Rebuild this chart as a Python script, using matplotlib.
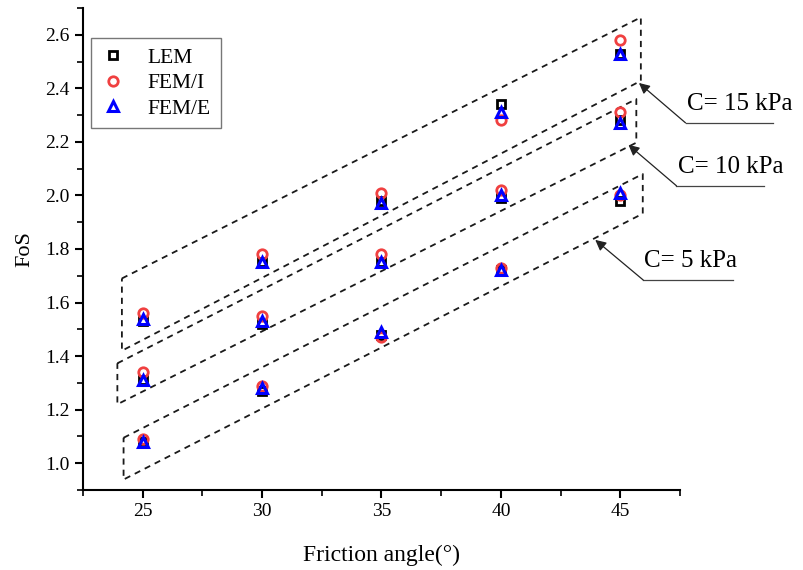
import numpy as np
import matplotlib.pyplot as plt
from matplotlib.ticker import MultipleLocator

plt.rcParams['font.family'] = ['Liberation Serif', 'DejaVu Serif']

# friction angle (deg)
phi = [25, 30, 35, 40, 45]

# factor of safety for each cohesion value
lem_c5 = [1.08, 1.27, 1.48, 1.72, 1.98]
lem_c10 = [1.31, 1.52, 1.75, 1.99, 2.28]
lem_c15 = [1.53, 1.75, 1.98, 2.34, 2.53]

femi_c5 = [1.09, 1.29, 1.47, 1.73, 2.00]
femi_c10 = [1.34, 1.55, 1.78, 2.02, 2.31]
femi_c15 = [1.56, 1.78, 2.01, 2.28, 2.58]

feme_c5 = [1.08, 1.28, 1.49, 1.72, 2.01]
feme_c10 = [1.31, 1.53, 1.75, 2.00, 2.27]
feme_c15 = [1.54, 1.75, 1.97, 2.31, 2.53]

cohesion_labels = ['C= 15 kPa', 'C= 10 kPa', 'C= 5 kPa']

# dashed outlines around each cohesion group (TL, TR, BR, BL)
group_boxes = [
    [(24.13, 1.69), (45.86, 2.665), (45.86, 2.428), (24.13, 1.42)],
    [(23.94, 1.373), (45.67, 2.36), (45.67, 2.197), (23.94, 1.22)],
    [(24.20, 1.095), (45.94, 2.08), (45.94, 1.932), (24.20, 0.939)],
]
# arrow tip, underline start, underline end
callouts = [
    ((45.78, 2.42), (47.73, 2.271), 51.4),
    ((45.34, 2.189), (47.35, 2.036), 51.0),
    ((43.95, 1.834), (45.96, 1.684), 49.7),
]

red = '#f04040'
blue = '#0000ff'

fig = plt.figure(figsize=(8.04, 5.70), dpi=100)
ax = fig.add_axes([0.1032, 0.1404, 0.7426, 0.8456])

x = np.repeat([phi], 3, axis=0).ravel()
lem = lem_c5 + lem_c10 + lem_c15
femi = femi_c5 + femi_c10 + femi_c15
feme = feme_c5 + feme_c10 + feme_c15

ax.plot(x, lem, ls='none', marker='s', ms=5.5, mew=2.0, mfc='none',
        mec='black', label='LEM', zorder=3)
ax.plot(x, femi, ls='none', marker='o', ms=6.8, mew=2.0, mfc='none',
        mec=red, label='FEM/I', zorder=4)
ax.plot(x, feme, ls='none', marker='^', ms=7.4, mew=2.2, mfc='none',
        mec=blue, label='FEM/E', zorder=5)

for box in group_boxes:
    pts = box + [box[0]]
    ax.plot([p[0] for p in pts], [p[1] for p in pts], color='#1a1a1a',
            lw=1.3, dashes=(3.4, 2.8), zorder=2)

for (tip, start, end), label in zip(callouts, cohesion_labels):
    ax.annotate('', xy=tip, xytext=start, annotation_clip=False,
                arrowprops=dict(arrowstyle='-|>', color='#222222', lw=0.9,
                                mutation_scale=16, shrinkA=0, shrinkB=0))
    ax.plot([start[0], end], [start[1], start[1]], color='#444444',
            lw=0.9, clip_on=False)
    ax.text(start[0] + 0.05, start[1] + 0.03, label, fontsize=18,
            ha='left', va='bottom')

ax.set_xlim(22.5, 47.5)
ax.set_ylim(0.9, 2.7)
ax.xaxis.set_major_locator(MultipleLocator(5))
ax.xaxis.set_minor_locator(MultipleLocator(2.5))
ax.yaxis.set_major_locator(MultipleLocator(0.2))
ax.yaxis.set_minor_locator(MultipleLocator(0.1))
ax.yaxis.set_major_formatter(plt.FormatStrFormatter('%.1f'))

for side in ('top', 'right'):
    ax.spines[side].set_visible(False)
for side in ('left', 'bottom'):
    ax.spines[side].set_linewidth(1.5)

ax.tick_params(which='major', direction='out', length=6, width=1.5,
               labelsize=14)
ax.tick_params(which='minor', direction='out', length=4, width=1.2)

ax.set_xlabel('Friction angle(°)', fontsize=17, labelpad=18)
ax.set_ylabel('FoS', fontsize=16, labelpad=8)

leg = ax.legend(loc='upper left', bbox_to_anchor=(0.013, 0.938),
                borderaxespad=0, fontsize=15.5, fancybox=False,
                handlelength=1.2, handletextpad=1.0, labelspacing=0.25,
                borderpad=0.45)
leg.get_frame().set_edgecolor('#555555')
leg.get_frame().set_linewidth(1.0)

fig.savefig('out.png', dpi=100)
